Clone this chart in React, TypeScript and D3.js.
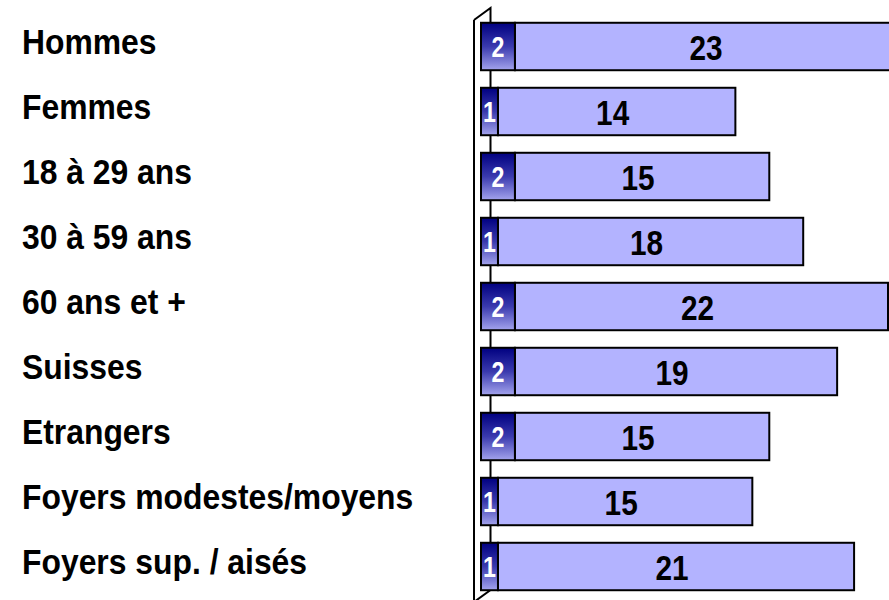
import React from 'react';
import * as d3 from 'd3';

const categories = [
  'Hommes',
  'Femmes',
  '18 à 29 ans',
  '30 à 59 ans',
  '60 ans et +',
  'Suisses',
  'Etrangers',
  'Foyers modestes/moyens',
  'Foyers sup. / aisés',
];
const darkValues = [2, 1, 2, 1, 2, 2, 2, 1, 1];
const lightValues = [23, 14, 15, 18, 22, 19, 15, 15, 21];

const W = 889;
const H = 600;
const FONT = '"Liberation Sans", Arial, sans-serif';

function NText(props: {
  x: number;
  y: number;
  sx: number;
  size: number;
  fill: string;
  anchor?: string;
  children: React.ReactNode;
}) {
  return (
    <g transform={`translate(${props.x},${props.y}) scale(${props.sx},1)`}>
      <text
        x={0}
        y={0}
        textAnchor={props.anchor || 'start'}
        fontFamily={FONT}
        fontWeight="bold"
        fontSize={props.size}
        fill={props.fill}
      >
        {props.children}
      </text>
    </g>
  );
}

export default function App() {
  const y = d3
    .scaleBand<string>()
    .domain(categories)
    .range([14, 599])
    .paddingInner(0.27)
    .paddingOuter(0.135);
  const x = d3.scaleLinear().domain([0, 24]).range([481, 888]);
  const bw = y.bandwidth();

  return (
    <svg width={W} height={H} style={{ position: 'absolute', left: 0, top: 0 }}>
      <defs>
        <linearGradient id="darkGrad" x1="0" y1="0" x2="0" y2="1">
          <stop offset="0" stopColor="#000080" />
          <stop offset="0.5" stopColor="#3a3aae" />
          <stop offset="1" stopColor="#a4a4ee" />
        </linearGradient>
        <clipPath id="clip">
          <rect x={0} y={0} width={W} height={H} />
        </clipPath>
      </defs>
      <rect x={0} y={0} width={W} height={H} fill="#fff" />
      {/* wall lines */}
      <path d="M474,20 L490.5,8 L490.5,590 L474,602" fill="none" stroke="#000" strokeWidth={2} />
      <line x1={474} y1={20} x2={474} y2={602} stroke="#000" strokeWidth={2} />
      {/* labels */}
      {categories.map((c, i) => (
        <NText key={'l' + i} x={22} y={(y(c) as number) + bw / 2 + 7.5} sx={0.885} size={36} fill="#000">
          {c}
        </NText>
      ))}
      <g clipPath="url(#clip)">
        {categories.map((c, i) => {
          const y0 = y(c) as number;
          const xd0 = x(0);
          const xd1 = x(darkValues[i]);
          const xl1 = x(darkValues[i] + lightValues[i]);
          return (
            <g key={'b' + i}>
              <rect x={xd1} y={y0} width={xl1 - xd1} height={bw} fill="#b3b3ff" stroke="#000" strokeWidth={2} />
              <rect x={xd0} y={y0} width={xd1 - xd0} height={bw} fill="url(#darkGrad)" stroke="#000" strokeWidth={2} />
              <NText x={(xd0 + xd1) / 2} y={y0 + bw / 2 + 10.5} sx={0.8} size={29} fill="#fff" anchor="middle">
                {darkValues[i]}
              </NText>
              <NText x={(xd1 + xl1) / 2 - 4} y={y0 + bw / 2 + 13} sx={0.85} size={35} fill="#000" anchor="middle">
                {lightValues[i]}
              </NText>
            </g>
          );
        })}
      </g>
    </svg>
  );
}
